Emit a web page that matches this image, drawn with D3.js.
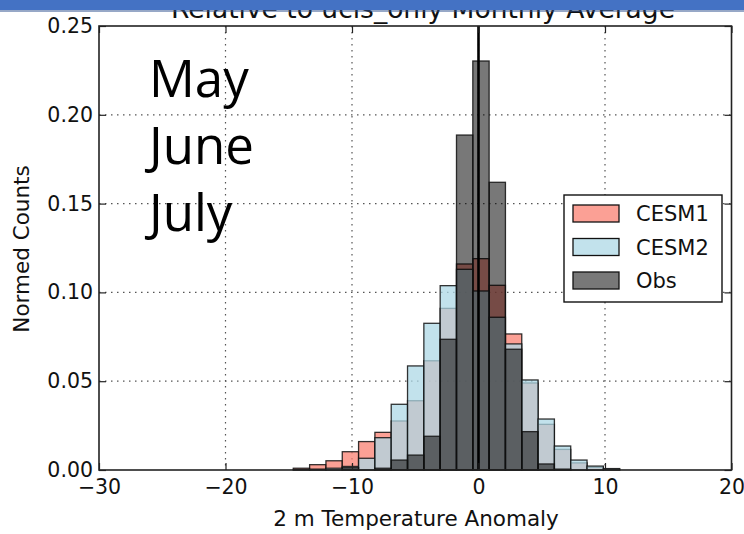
<!DOCTYPE html>
<html>
<head>
<meta charset="utf-8">
<script src="https://cdn.jsdelivr.net/npm/d3@7/dist/d3.min.js"></script>
<style>
  html, body { margin: 0; padding: 0; background: #fff; }
  svg { display: block; }
  .tick-label { font-family: "DejaVu Sans", sans-serif; font-size: 20.5px; fill: #111; }
</style>
</head>
<body>
<svg id="chart" width="744" height="534"></svg>
<script>
// Histogram bin edges (temperature anomaly, K)
const binEdges = [-14.64, -13.35, -12.06, -10.77, -9.48, -8.19, -6.90, -5.61, -4.32, -3.03,
                  -1.74, -0.45, 0.84, 2.13, 3.42, 4.71, 6.00, 7.29, 8.58, 9.87, 11.16];

// Normalised counts per bin
const cesm1 = [0.001, 0.003, 0.0052, 0.0103, 0.016, 0.0212, 0.0276, 0.039, 0.0615, 0.091,
               0.116, 0.119, 0.104, 0.0766, 0.049, 0.0257, 0.0116, 0.004, 0.0015, 0.0005];
const cesm2 = [0.0003, 0.0005, 0.001, 0.002, 0.0066, 0.0182, 0.037, 0.0586, 0.0826, 0.1038,
               0.113, 0.1008, 0.086, 0.071, 0.0507, 0.0287, 0.0135, 0.0056, 0.0022, 0.0008];
const obs   = [0, 0, 0, 0.0013, 0, 0.001, 0.0056, 0.0084, 0.019, 0.0736,
               0.1886, 0.2303, 0.162, 0.068, 0.0216, 0.0034, 0.0005, 0, 0, 0];

const seriesNames = ["CESM1", "CESM2", "Obs"];
const xTicks = [-30, -20, -10, 0, 10, 20];
const yTicks = [0.00, 0.05, 0.10, 0.15, 0.20, 0.25];
const months = ["May", "June", "July"];
const titleText = "Relative to ucls_only Monthly Average";

const styles = [
  { fill: "salmon", opacity: 0.75 },
  { fill: "lightblue", opacity: 0.75 },
  { fill: "#000000", opacity: 0.53 }
];

const svg = d3.select("#chart");
const plotLeft = 99, plotRight = 731.5, plotTop = 26, plotBottom = 470;
const labelFont = "DejaVu Sans, sans-serif";

const x = d3.scaleLinear().domain([-30, 20]).range([plotLeft, plotRight]);
const y = d3.scaleLinear().domain([0, 0.25]).range([plotBottom, plotTop]);

// Title (sits partly under the slide header band)
svg.append("text")
  .attr("x", 423).attr("y", 18)
  .attr("text-anchor", "middle")
  .attr("font-family", labelFont)
  .attr("font-size", 26.5).attr("fill", "#111")
  .text(titleText);

// Grid lines
const grid = svg.append("g");
xTicks.slice(1, -1).forEach(t => {
  grid.append("line").attr("x1", x(t)).attr("x2", x(t)).attr("y1", plotTop).attr("y2", plotBottom)
    .attr("stroke", "#555").attr("stroke-width", 1.2).attr("stroke-dasharray", "1.5,4.5");
});
yTicks.slice(1, -1).forEach(t => {
  grid.append("line").attr("x1", plotLeft).attr("x2", plotRight).attr("y1", y(t)).attr("y2", y(t))
    .attr("stroke", "#555").attr("stroke-width", 1.2).attr("stroke-dasharray", "1.5,4.5");
});

// Histogram bars
[cesm1, cesm2, obs].forEach((vals, si) => {
  svg.append("g").selectAll("rect")
    .data(vals.map((v, i) => ({ v, x0: binEdges[i], x1: binEdges[i + 1] })))
    .join("rect")
    .attr("x", d => x(d.x0))
    .attr("width", d => x(d.x1) - x(d.x0))
    .attr("y", d => y(d.v))
    .attr("height", d => y(0) - y(d.v))
    .attr("fill", styles[si].fill)
    .attr("fill-opacity", styles[si].opacity)
    .attr("stroke", "#111")
    .attr("stroke-opacity", 0.85)
    .attr("stroke-width", 1.3);
});

// Zero reference line
svg.append("line")
  .attr("x1", x(0)).attr("x2", x(0)).attr("y1", plotTop).attr("y2", plotBottom)
  .attr("stroke", "#000").attr("stroke-width", 2.6);

// Axes with inward ticks on all sides
const xb = svg.append("g").attr("transform", `translate(0,${plotBottom})`)
  .call(d3.axisBottom(x).tickValues(xTicks).tickSizeInner(-7).tickSizeOuter(0)
        .tickPadding(9).tickFormat(d => d < 0 ? "\u2212" + Math.abs(d) : d));
const xt = svg.append("g").attr("transform", `translate(0,${plotTop})`)
  .call(d3.axisTop(x).tickValues(xTicks).tickSizeInner(-7).tickSizeOuter(0).tickFormat(""));
const yl = svg.append("g").attr("transform", `translate(${plotLeft},0)`)
  .call(d3.axisLeft(y).tickValues(yTicks).tickSizeInner(-7).tickSizeOuter(0)
        .tickPadding(6).tickFormat(d3.format(".2f")));
const yr = svg.append("g").attr("transform", `translate(${plotRight},0)`)
  .call(d3.axisRight(y).tickValues(yTicks).tickSizeInner(-7).tickSizeOuter(0).tickFormat(""));
[xb, xt, yl, yr].forEach(g => {
  g.select(".domain").remove();
  g.selectAll(".tick line").attr("stroke", "#222").attr("stroke-width", 1.2);
  g.selectAll(".tick text").attr("class", "tick-label").attr("font-family", null).attr("font-size", null);
});
xb.selectAll(".tick text").attr("dy", "0.71em");

// Plot frame
svg.append("rect").attr("x", plotLeft).attr("y", plotTop)
  .attr("width", plotRight - plotLeft).attr("height", plotBottom - plotTop)
  .attr("fill", "none").attr("stroke", "#222").attr("stroke-width", 1.6);

// Axis labels
svg.append("text")
  .attr("x", 416).attr("y", 526).attr("text-anchor", "middle")
  .attr("font-family", labelFont)
  .attr("font-size", 21.5).attr("fill", "#111")
  .text("2 m Temperature Anomaly");
svg.append("text")
  .attr("transform", "translate(29,249) rotate(-90)").attr("text-anchor", "middle")
  .attr("font-family", labelFont)
  .attr("font-size", 21.5).attr("fill", "#111")
  .text("Normed Counts");

// Month annotation
svg.append("g").selectAll("text").data(months).join("text")
  .attr("x", 149).attr("y", (d, i) => 97 + i * 67)
  .attr("font-family", "Open Sans, Noto Sans, sans-serif")
  .attr("font-size", 51).attr("fill", "#000")
  .text(d => d);

// Legend
const lg = svg.append("g");
lg.append("rect").attr("x", 564).attr("y", 195).attr("width", 158).attr("height", 107)
  .attr("fill", "#fff").attr("stroke", "#111").attr("stroke-width", 1.4);
seriesNames.forEach((name, i) => {
  const yy = 205 + i * 33.5;
  lg.append("rect").attr("x", 573).attr("y", yy).attr("width", 46).attr("height", 17)
    .attr("fill", styles[i].fill).attr("fill-opacity", styles[i].opacity)
    .attr("stroke", "#111").attr("stroke-width", 1.3);
  lg.append("text").attr("x", 636).attr("y", yy + 16)
    .attr("font-family", labelFont)
    .attr("font-size", 21).attr("fill", "#111")
    .text(name);
});

// Slide header band
svg.append("rect").attr("x", 0).attr("y", 0).attr("width", 744).attr("height", 10)
  .attr("fill", "#4472c4");
svg.append("rect").attr("x", 0).attr("y", 10).attr("width", 744).attr("height", 2)
  .attr("fill", "#2f528f").attr("opacity", 0.5);
</script>
</body>
</html>
